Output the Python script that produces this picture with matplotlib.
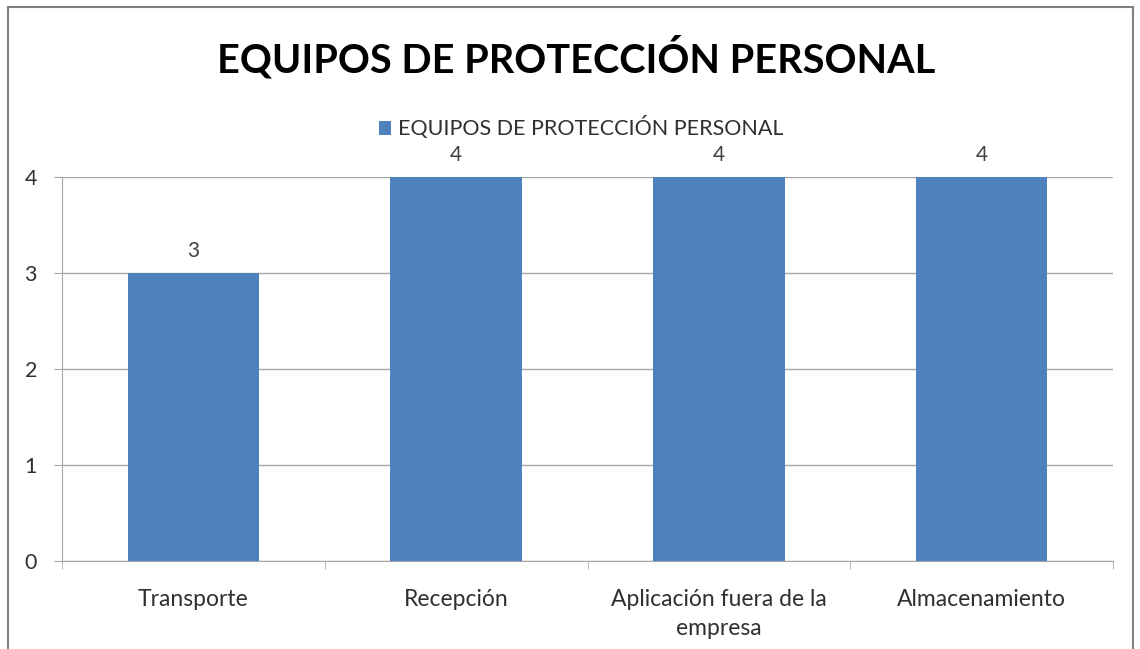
import matplotlib
matplotlib.use('Agg')
import matplotlib.pyplot as plt
from matplotlib.patches import Rectangle

plt.rcParams['font.family'] = ['Lato', 'DejaVu Sans']

# datos
categorias = ['Transporte', 'Recepción', 'Aplicación fuera de la\nempresa', 'Almacenamiento']
valores = [3, 4, 4, 4]
serie = 'EQUIPOS DE PROTECCIÓN PERSONAL'
titulo = 'EQUIPOS DE PROTECCIÓN PERSONAL'

azul = '#4F81BD'
gris = '#A6A6A6'

fig = plt.figure(figsize=(11.4, 6.49), dpi=100)
ax = fig.add_axes([62/1140, 1-561/649, (1113-62)/1140, (561-177)/649])

x = list(range(len(categorias)))
barras = ax.bar(x, valores, width=0.5, color=azul, label=serie, zorder=3)
for xi, v in zip(x, valores):
    ax.text(xi, v + 0.13, str(v), ha='center', va='bottom', fontsize=15, color='#404040')

ax.set_xlim(-0.5, len(categorias) - 0.5)
ax.set_ylim(0, 4)
ax.set_yticks([0, 1, 2, 3, 4])
ax.grid(axis='y', color=gris, linewidth=1, zorder=0)

ax.set_xticks(x)
ax.set_xticklabels(categorias, fontsize=16.5, color='#303030', linespacing=1.5)
ax.set_xticks([i - 0.5 for i in range(len(categorias) + 1)], minor=True)
ax.tick_params(axis='x', which='major', length=0, pad=20)
ax.tick_params(axis='x', which='minor', length=6, color=gris, direction='out')
ax.tick_params(axis='y', length=6, color=gris, labelsize=15.5, labelcolor='#303030', pad=12)

for s in ['top', 'right']:
    ax.spines[s].set_visible(False)
ax.spines['left'].set_color(gris)
ax.spines['bottom'].set_color(gris)

fig.text(576/1140, 1-58/649, titulo, ha='center', va='center', fontsize=28.5,
         fontweight='bold', color='black')
ax.legend(loc='center', bbox_to_anchor=(581/1140, 1-128/649), bbox_transform=fig.transFigure,
          frameon=False, fontsize=15.5, handlelength=0.6, handleheight=0.6,
          handletextpad=0.3, labelcolor='#303030')

fig.patches.append(Rectangle((8/1140, -0.01), (1133-8)/1140, 1.01-7/649, transform=fig.transFigure,
                             fill=False, edgecolor='#808080', linewidth=1.5))

fig.savefig('out.png', dpi=100)
